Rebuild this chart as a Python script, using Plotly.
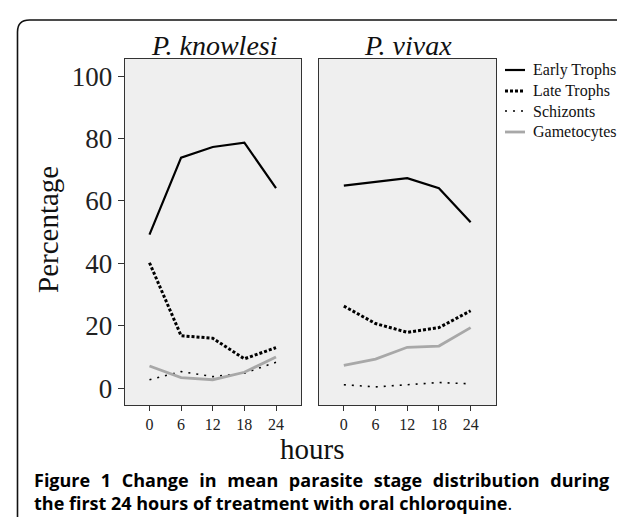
import plotly.graph_objects as go

hours = [0, 6, 12, 18, 24]
stages = ["Early Trophs", "Late Trophs", "Schizonts", "Gametocytes"]
knowlesi_early = [49.2, 73.9, 77.3, 78.7, 64.1]
knowlesi_late = [40.2, 16.8, 16.0, 9.4, 13.0]
knowlesi_schiz = [2.7, 5.3, 3.7, 4.8, 8.3]
knowlesi_gam = [7.1, 3.4, 2.7, 5.1, 10.0]
vivax_early = [64.9, 66.0, 67.3, 64.1, 53.2]
vivax_late = [26.3, 20.7, 17.9, 19.4, 24.8]
vivax_schiz = [1.1, 0.4, 1.1, 1.8, 1.4]
vivax_gam = [7.3, 9.3, 13.1, 13.5, 19.4]
yticks = [0, 20, 40, 60, 80, 100]
panel_titles = ["P. knowlesi", "P. vivax"]

W, H = 625, 517
styles = {
    "Early Trophs": dict(color="#000000", width=2.2, dash="solid"),
    "Late Trophs": dict(color="#000000", width=3, dash="3px,2px"),
    "Schizonts": dict(color="#000000", width=1.6, dash="2px,6px"),
    "Gametocytes": dict(color="#a8a8a8", width=2.8, dash="solid"),
}

fig = go.Figure()
panels = [
    ("x", "y", [knowlesi_early, knowlesi_late, knowlesi_schiz, knowlesi_gam]),
    ("x2", "y2", [vivax_early, vivax_late, vivax_schiz, vivax_gam]),
]
for xa, ya, series in panels:
    for name, vals in zip(stages, series):
        fig.add_trace(go.Scatter(x=hours, y=vals, mode="lines", name=name,
                                 line=styles[name], xaxis=xa, yaxis=ya,
                                 showlegend=False, hoverinfo="x+y+name"))

serif = "Liberation Serif, Times New Roman, serif"
ydom = [1 - 397 / H, 1 - 51 / H]
xd1 = [116.7 / W, 293.3 / W]
xd2 = [311 / W, 488 / W]
axis_common = dict(range=[-4.7, 28.8], tickvals=hours, ticks="outside", ticklen=5,
                   tickcolor="#333", showline=True, linecolor="#333", linewidth=1,
                   mirror=True, showgrid=False, zeroline=False,
                   tickfont=dict(family=serif, size=16, color="#222"))
yaxis_common = dict(range=[-5.4, 105.5], showline=True, linecolor="#333", linewidth=1,
                    mirror=True, showgrid=False, zeroline=False, domain=ydom)
fig.update_layout(
    width=W, height=H, margin=dict(l=0, r=0, t=0, b=0),
    paper_bgcolor="white", plot_bgcolor="#efefef",
    xaxis=dict(domain=xd1, anchor="y", **axis_common),
    xaxis2=dict(domain=xd2, anchor="y2", **axis_common),
    yaxis=dict(anchor="x", tickvals=yticks, ticks="outside", ticklen=6, tickcolor="#333",
               tickfont=dict(family=serif, size=27, color="#222"), **yaxis_common),
    yaxis2=dict(anchor="x2", showticklabels=False, ticks="", **yaxis_common),
)

ann = []
for t, cx in zip(panel_titles, [206 / W, 400 / W]):
    ann.append(dict(text=t, x=cx, y=1 - 37 / H, xref="paper", yref="paper", showarrow=False,
                    xanchor="center", yanchor="middle",
                    font=dict(family=serif, size=28, color="#111", style="italic")))
ann.append(dict(text="hours", x=304 / W, y=1 - 441 / H, xref="paper", yref="paper",
                showarrow=False, xanchor="center", yanchor="middle",
                font=dict(family=serif, size=29, color="#111")))
ann.append(dict(text="Percentage", x=40 / W, y=1 - 222 / H, xref="paper", yref="paper",
                showarrow=False, xanchor="center", yanchor="middle", textangle=-90,
                font=dict(family=serif, size=29, color="#111")))

# legend
shapes = []
leg_y = [62, 83, 103, 124]
for name, ly in zip(stages, leg_y):
    s = styles[name]
    shapes.append(dict(type="line", xref="paper", yref="paper", x0=497 / W, x1=517 / W,
                       y0=1 - ly / H, y1=1 - ly / H,
                       line=dict(color=s["color"], width=s["width"], dash=s["dash"])))
    ann.append(dict(text=name, x=523 / W, y=1 - ly / H, xref="paper", yref="paper",
                    showarrow=False, xanchor="left", yanchor="middle",
                    font=dict(family=serif, size=16, color="#111")))

# frame with rounded corner
def px(x, y):
    return f"{x / W:.5f},{1 - y / H:.5f}"
path = f"M {px(9.5, 530)} L {px(9.5, 24)} Q {px(9.5, 12)} {px(21.5, 12)} L {px(640, 12)}"
shapes.append(dict(type="path", xref="paper", yref="paper", path=path,
                   line=dict(color="#111", width=1.6)))

# caption (first line justified with wider gaps)
sans = "Open Sans, Noto Sans, sans-serif"
gap = " \u2009\u2009"
line1_words = ["Figure", "1", "Change", "in", "mean", "parasite", "stage", "distribution", "during"]
line1 = "<b>" + gap.join(line1_words) + "</b>"
line2 = "<b>the first 24 hours of treatment with oral chloroquine</b>."
ann.append(dict(text=line1, x=26 / W, y=1 - 472 / H, xref="paper", yref="paper",
                showarrow=False, xanchor="left", yanchor="middle", xshift=-2,
                font=dict(family=sans, size=18, color="#000")))
ann.append(dict(text=line2, x=26 / W, y=1 - 495 / H, xref="paper", yref="paper",
                showarrow=False, xanchor="left", yanchor="middle", xshift=-2,
                font=dict(family=sans, size=18, color="#000")))

fig.update_layout(annotations=ann, shapes=shapes)
fig.write_html("out.html")
